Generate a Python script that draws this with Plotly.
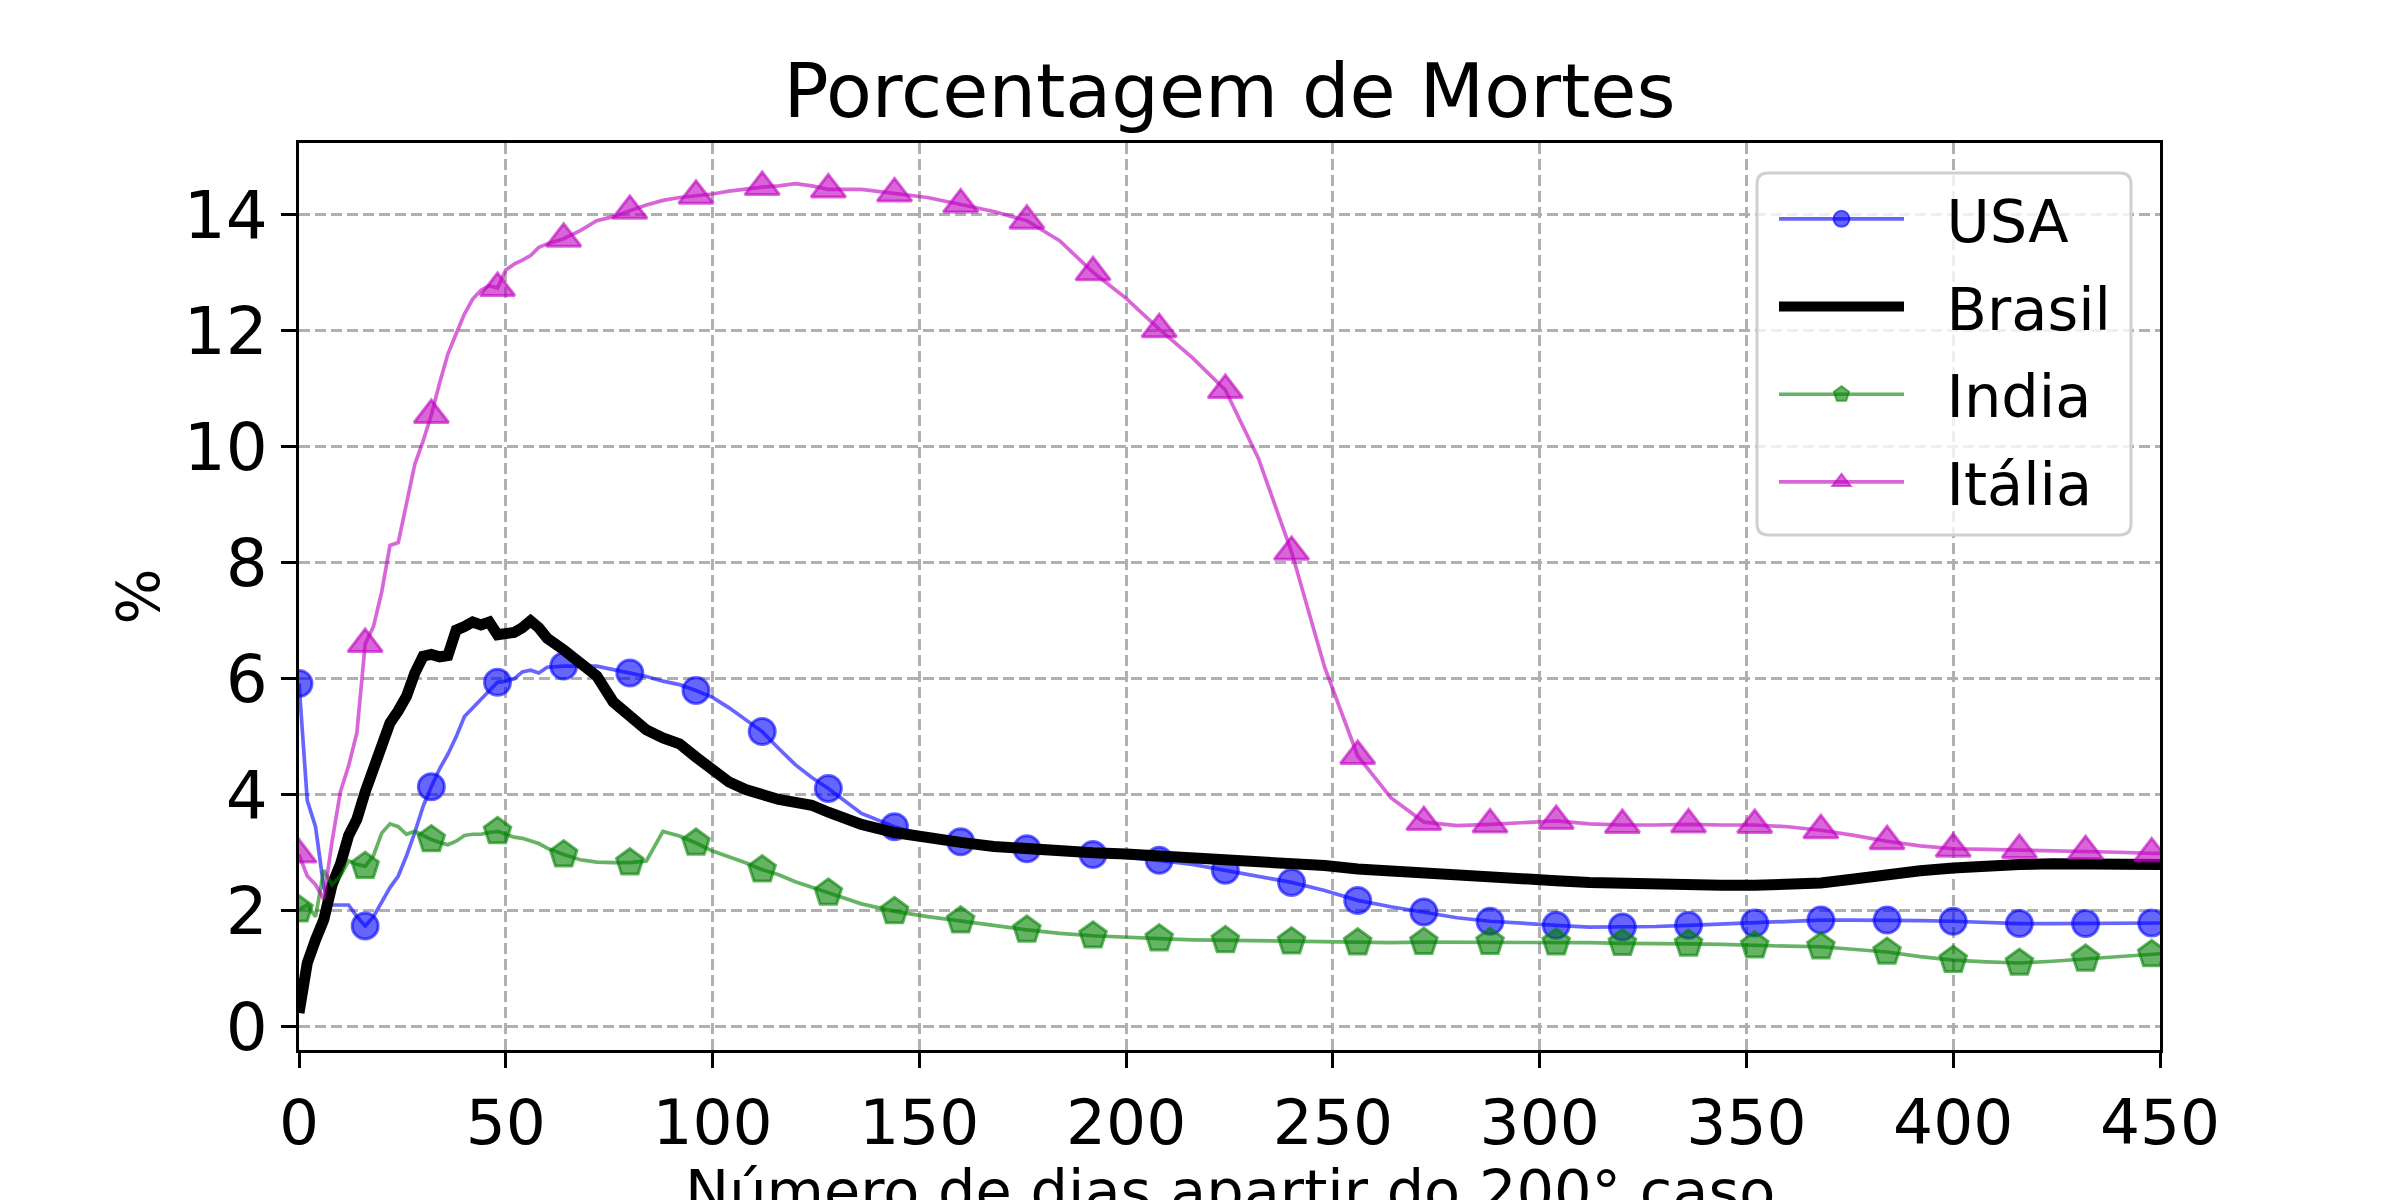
import plotly.graph_objects as go

# days since the 200th case (finer steps where the curves are jagged)
days = (list(range(0, 61, 2)) + list(range(64, 129, 4))
        + list(range(136, 449, 8)) + [450])

usa = [5.92, 3.9, 3.45, 2.4, 2.1, 2.1, 2.1, 1.9, 1.74, 1.9,
       2.15, 2.4, 2.6, 2.95, 3.35, 3.8, 4.14, 4.45, 4.7, 5.0,
       5.35, 5.5, 5.65, 5.8, 5.94, 5.96, 6.0, 6.12, 6.15, 6.1,
       6.2,
       6.22, 6.22, 6.22, 6.16, 6.10, 6.04, 5.96, 5.9, 5.80, 5.68,
       5.5, 5.3, 5.09, 4.8, 4.52, 4.3, 4.11,
       3.68, 3.45, 3.28, 3.19, 3.12, 3.07, 3.02, 2.97, 2.93, 2.87,
       2.80, 2.70, 2.60, 2.49, 2.35, 2.18, 2.07, 1.98, 1.88, 1.82,
       1.78, 1.75, 1.72, 1.72, 1.73, 1.75, 1.77, 1.79, 1.82, 1.84,
       1.84, 1.84, 1.83, 1.82, 1.80, 1.78, 1.78, 1.78, 1.79, 1.79,
       1.79]

brasil = [0.24, 1.1, 1.5, 1.85, 2.45, 2.8, 3.3, 3.58, 4.05, 4.45,
          4.85, 5.24, 5.45, 5.7, 6.1, 6.39, 6.42, 6.38, 6.4, 6.84,
          6.9, 6.98, 6.93, 6.98, 6.76, 6.78, 6.8, 6.88, 7.0, 6.88,
          6.7,
          6.5, 6.26, 6.05, 5.6, 5.33, 5.12, 4.98, 4.88, 4.65, 4.43,
          4.22, 4.09, 4.0, 3.92, 3.87, 3.82, 3.70,
          3.49, 3.35, 3.25, 3.18, 3.11, 3.06, 3.02, 3.0, 2.98, 2.95,
          2.93, 2.91, 2.88, 2.83, 2.78, 2.72, 2.68, 2.64, 2.6, 2.57,
          2.55, 2.52, 2.49, 2.47, 2.45, 2.44, 2.44, 2.44, 2.44, 2.48,
          2.55, 2.63, 2.69, 2.74, 2.78, 2.80, 2.81, 2.82, 2.81, 2.80,
          2.80]

india = [2.02, 2.1, 1.9, 2.7, 2.45, 2.6, 2.86, 2.8, 2.77, 2.95,
         3.34, 3.5, 3.45, 3.32, 3.37, 3.3, 3.23, 3.18, 3.14, 3.2,
         3.3, 3.32, 3.32, 3.35, 3.37, 3.32, 3.27, 3.25, 3.2, 3.16,
         3.08,
         2.97, 2.88, 2.84, 2.83, 2.83, 2.86, 3.37, 3.29, 3.17, 3.03,
         2.93, 2.83, 2.71, 2.62, 2.5, 2.4, 2.31,
         2.12, 1.99, 1.9, 1.83, 1.75, 1.67, 1.61, 1.57, 1.54, 1.52,
         1.50, 1.49, 1.48, 1.47, 1.46, 1.45, 1.45, 1.46, 1.46, 1.46,
         1.45, 1.45, 1.45, 1.44, 1.44, 1.43, 1.42, 1.40, 1.39, 1.38,
         1.34, 1.29, 1.21, 1.15, 1.12, 1.10, 1.13, 1.17, 1.21, 1.25,
         1.26]

italia = [2.97, 2.6, 2.45, 2.2, 3.2, 4.05, 4.5, 5.07, 6.6, 6.9,
          7.5, 8.3, 8.35, 9.0, 9.7, 10.1, 10.55, 11.1, 11.6, 11.95,
          12.29, 12.55, 12.7, 12.78, 12.74, 13.05, 13.15, 13.22, 13.3, 13.44,
          13.5,
          13.59, 13.73, 13.9, 13.97, 14.07, 14.17, 14.25, 14.3, 14.33, 14.36,
          14.41, 14.45, 14.48, 14.5, 14.54, 14.5, 14.44,
          14.44, 14.37, 14.3, 14.18, 14.06, 13.9, 13.55, 13.01, 12.56, 12.03,
          11.54, 10.98, 9.8, 8.19, 6.2, 4.67, 3.95, 3.53, 3.47, 3.49,
          3.52, 3.55, 3.5, 3.48, 3.48, 3.49, 3.48, 3.48, 3.45, 3.39,
          3.3, 3.2, 3.12, 3.07, 3.06, 3.05, 3.04, 3.03, 3.01, 2.99,
          2.99]

MARK_EVERY = 16
FONT = "DejaVu Sans"
W, H = 2400, 1200
L, R, T, B = 299, 240, 143, 150  # plot area in pixels


def px_x(x):
    return (x - L) / (W - L - R)


def px_y(y):
    return (H - B - y) / (H - T - B)


# name, values, colour, marker symbol, marker size, line width
series = [
    ("USA", usa, "rgba(0,0,255,0.6)", "circle", 26, 3.7),
    ("Brasil", brasil, "rgba(0,0,0,1)", None, 0, 11),
    ("India", india, "rgba(0,128,0,0.6)", "pentagon", 28, 3.7),
    ("Itália", italia, "rgba(191,0,191,0.6)", "triangle-up", 30, 3.7),
]

fig = go.Figure()
for name, vals, color, symbol, msize, width in series:
    fig.add_trace(go.Scatter(
        x=days, y=vals, mode="lines", name=name, legendgroup=name,
        showlegend=False, line=dict(color=color, width=width),
    ))
    if symbol:
        mk = [(d, v) for d, v in zip(days, vals) if d % MARK_EVERY == 0]
        fig.add_trace(go.Scatter(
            x=[m[0] for m in mk], y=[m[1] for m in mk], mode="markers",
            legendgroup=name, showlegend=False,
            marker=dict(symbol=symbol, size=msize, color=color,
                        line=dict(color=color, width=3)),
        ))
    # legend entry
    fig.add_trace(go.Scatter(
        x=[None], y=[None], name="\u00a0\u00a0" + name, legendgroup=name,
        mode="lines+markers" if symbol else "lines",
        line=dict(color=color, width=width),
        marker=dict(symbol=symbol or "circle", size=msize, color=color,
                    line=dict(color=color, width=2)),
    ))

axis_style = dict(
    showline=True, linecolor="black", linewidth=3, mirror=True,
    ticks="outside", ticklen=15, tickwidth=3, tickcolor="black",
    showgrid=True, gridcolor="#b0b0b0", gridwidth=3, griddash="11px,5px",
    zeroline=False, automargin=False,
)

# legend frame (rounded, translucent like matplotlib's)
x0, x1, y0, y1, rad = px_x(1757), px_x(2131), px_y(173), px_y(535), 0.006
frame = (f"M{x0 + rad},{y0} L{x1 - rad},{y0} Q{x1},{y0} {x1},{y0 - rad * 2} "
         f"L{x1},{y1 + rad * 2} Q{x1},{y1} {x1 - rad},{y1} L{x0 + rad},{y1} "
         f"Q{x0},{y1} {x0},{y1 + rad * 2} L{x0},{y0 - rad * 2} Q{x0},{y0} {x0 + rad},{y0} Z")

fig.update_layout(
    width=W, height=H,
    plot_bgcolor="white", paper_bgcolor="white",
    font=dict(family=FONT, color="black"),
    margin=dict(l=L, r=R, t=T, b=B, autoexpand=False),
    title=dict(text="Porcentagem de Mortes", x=0.5, xref="paper",
               y=1 - 91 / H, yanchor="middle", automargin=False,
               font=dict(size=75, family=FONT, color="black")),
    xaxis=dict(range=[0, 450], tick0=0, dtick=50,
               tickfont=dict(size=63, family=FONT, color="black"), **axis_style),
    yaxis=dict(range=[-0.4, 15.24], tick0=0, dtick=2,
               tickfont=dict(size=66, family=FONT, color="black"), **axis_style),
    legend=dict(
        x=px_x(1774), xanchor="left", y=px_y(174), yanchor="top",
        bgcolor="rgba(0,0,0,0)", borderwidth=0,
        font=dict(size=59, family=FONT, color="black"),
        tracegroupgap=8, itemwidth=125,
    ),
    shapes=[dict(type="path", path=frame, xref="paper", yref="paper",
                 fillcolor="rgba(255,255,255,0.8)",
                 line=dict(color="#d0d0d0", width=3), layer="above")],
    annotations=[
        dict(text="Número de dias apartir do 200° caso", xref="paper", yref="paper",
             x=0.5, y=px_y(1191), xanchor="center", yanchor="middle", showarrow=False,
             font=dict(size=59, family=FONT, color="black")),
        dict(text="%", xref="paper", yref="paper", x=px_x(138), y=0.5,
             xanchor="center", yanchor="middle", textangle=-90, showarrow=False,
             font=dict(size=59, family=FONT, color="black")),
    ],
)

fig.write_html("out.html", config={"displayModeBar": False},
               post_script="document.body.style.margin = '0';")
